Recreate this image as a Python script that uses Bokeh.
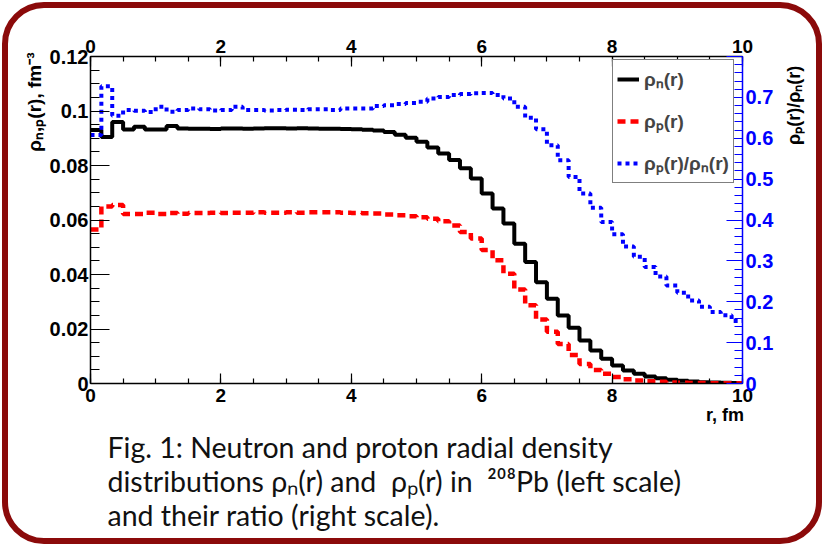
import numpy as np
from math import pi
from bokeh.plotting import figure
from bokeh.models import (Range1d, LinearAxis, FixedTicker, Legend, LegendItem, Title)
from bokeh.embed import file_html
from bokeh.resources import INLINE

# ---------------- data ----------------
r_edges = np.linspace(0, 10, 61)          # 60 bins of 1/6 fm

rho_n = [0.0930, 0.0905, 0.0960, 0.0932, 0.0942, 0.0932, 0.0932, 0.0945, 0.0936, 0.0935,
         0.0935, 0.0934, 0.0936, 0.0936, 0.0935, 0.0936, 0.0937, 0.0937, 0.0936, 0.0937,
         0.0936, 0.0935, 0.0935, 0.0934, 0.0933, 0.0931, 0.0928, 0.0923, 0.0913, 0.0902,
         0.0887, 0.0866, 0.0844, 0.0820, 0.0790, 0.0752, 0.0697, 0.0642, 0.0587, 0.0513,
         0.0446, 0.0372, 0.0311, 0.0250, 0.0205, 0.0158, 0.0121, 0.0091, 0.0066, 0.0048,
         0.0036, 0.0026, 0.0019, 0.0014, 0.0010, 0.0007, 0.0005, 0.0004, 0.0003, 0.0002]

rho_p = [0.0565, 0.0650, 0.0655, 0.0622, 0.0622, 0.0627, 0.0622, 0.0626, 0.0623, 0.0626,
         0.0626, 0.0627, 0.0626, 0.0627, 0.0627, 0.0628, 0.0627, 0.0627, 0.0628, 0.0627,
         0.0628, 0.0628, 0.0628, 0.0627, 0.0626, 0.0625, 0.0624, 0.0620, 0.0617, 0.0614,
         0.0610, 0.0605, 0.0595, 0.0580, 0.0556, 0.0532, 0.0490, 0.0452, 0.0403, 0.0345,
         0.0287, 0.0235, 0.0190, 0.0145, 0.0105, 0.0072, 0.0050, 0.0036, 0.0024, 0.0016,
         0.0011, 0.0008, 0.0006, 0.0004, 0.0003, 0.0002, 0.00015, 0.0001, 0.0001, 0.00007]

ratio = [0.608, 0.727, 0.655, 0.669, 0.667, 0.664, 0.677, 0.665, 0.669, 0.673,
         0.671, 0.668, 0.669, 0.677, 0.669, 0.669, 0.668, 0.669, 0.670, 0.669,
         0.671, 0.671, 0.669, 0.673, 0.673, 0.673, 0.679, 0.681, 0.684, 0.686,
         0.689, 0.697, 0.701, 0.706, 0.708, 0.710, 0.711, 0.706, 0.697, 0.677,
         0.650, 0.622, 0.583, 0.546, 0.505, 0.465, 0.430, 0.395, 0.365, 0.335,
         0.310, 0.285, 0.262, 0.240, 0.222, 0.203, 0.188, 0.175, 0.167, 0.153]

x_ticks = [0, 2, 4, 6, 8, 10]
x_minor = [i * 0.5 for i in range(21)]
y_ticks = [0, 0.02, 0.04, 0.06, 0.08, 0.1, 0.12]
y_labels = ["0", "0.02", "0.04", "0.06", "0.08", "0.1", "0.12"]
y_minor = [i * 0.005 for i in range(25)]
r_ticks = [0, 0.1, 0.2, 0.3, 0.4, 0.5, 0.6, 0.7, 0.8]
r_labels = ["0", "0.1", "0.2", "0.3", "0.4", "0.5", "0.6", "0.7", ""]
r_minor = [i * 0.02 for i in range(41)]

legend_labels = ["ρₙ(r)", "ρₚ(r)", "ρₚ(r)/ρₙ(r)"]
x_title = "r, fm"
y_title = "ρₙ,ₚ(r), fm⁻³"
y2_title = "ρₚ(r)/ρₙ(r)"
caption = ["Fig. 1: Neutron and proton radial density",
           "distributions ρₙ(r) and\u00a0 ρₚ(r) in\u00a0 ²⁰⁸Pb (left scale)",
           "and their ratio (right scale)."]

# ---------------- layout ----------------
W, H = 823, 546
FL, FR, FT, FB = 90, 742, 56, 383
NB = "\u00a0"   # non-breaking space used to shift axis titles along their axis

frame_css = """
:host { position: relative; }
:host::after {
  content: ""; position: absolute; left: 2px; top: 2px;
  width: 808px; height: 530px;
  border: 6px solid #8B0A0A; border-radius: 42px;
  pointer-events: none; z-index: 100;
}
"""

p = figure(width=W, height=H, x_range=Range1d(0, 10), y_range=Range1d(0, 0.12),
           output_backend="svg", toolbar_location=None,
           x_axis_location=None, y_axis_location=None,
           min_border_left=FL, min_border_right=W - FR,
           min_border_top=FT, min_border_bottom=H - FB,
           stylesheets=[frame_css])
p.extra_y_ranges = {"ratio": Range1d(0, 0.8)}
p.grid.visible = False
p.outline_line_color = None
p.background_fill_color = "white"
p.border_fill_color = "white"

FONT = "Liberation Sans"
AXIS_PROPS = LinearAxis.properties()
TITLE_PROPS = Title.properties()


def style_axis(ax, color, tin, tmin, size, standoff):
    ax.axis_line_color = color
    ax.axis_line_width = 1.5
    ax.major_tick_line_color = color
    ax.minor_tick_line_color = color
    ax.major_tick_line_width = 1.2
    ax.minor_tick_line_width = 1.2
    ax.major_tick_in = tin
    ax.major_tick_out = 0
    ax.minor_tick_in = tmin
    ax.minor_tick_out = 0
    ax.major_label_text_font = FONT
    ax.major_label_text_font_style = "bold"
    ax.major_label_text_font_size = size
    ax.major_label_text_color = color
    ax.major_label_standoff = standoff
    ax.axis_label_text_font = FONT
    ax.axis_label_text_font_style = "bold"
    ax.axis_label_text_font_size = "18px"
    ax.axis_label_text_color = "black"


def title_axis(ax, text, standoff, align, orient=None):
    ax.axis_label = text
    ax.axis_label_standoff = standoff
    if "axis_label_align" in AXIS_PROPS:
        ax.axis_label_align = align
    if orient is not None and "axis_label_orientation" in AXIS_PROPS:
        ax.axis_label_orientation = orient


bottom = LinearAxis(ticker=FixedTicker(ticks=x_ticks, minor_ticks=x_minor))
style_axis(bottom, "black", 10, 5, "19px", 5)
title_axis(bottom, x_title + NB * 7, 0, "end")
p.add_layout(bottom, "below")

top = LinearAxis(ticker=FixedTicker(ticks=x_ticks, minor_ticks=x_minor))
style_axis(top, "black", 10, 5, "19px", 4)
p.add_layout(top, "above")

left = LinearAxis(ticker=FixedTicker(ticks=y_ticks, minor_ticks=y_minor),
                  major_label_overrides=dict(zip(y_ticks, y_labels)))
style_axis(left, "black", 19, 9, "20px", 2)
p.add_layout(left, "left")

right = LinearAxis(y_range_name="ratio",
                   ticker=FixedTicker(ticks=r_ticks, minor_ticks=r_minor),
                   major_label_overrides=dict(zip(r_ticks, r_labels)))
style_axis(right, "#0000ff", 16, 8, "20px", 3)
title_axis(right, NB * 15 + y2_title, 18, "center", pi / 2)
p.add_layout(right, "right")

# left-axis title as a side title, right-aligned to the top of the frame
lt = Title(text=y_title, align="right", offset=-4, text_font=FONT,
           text_font_style="bold", text_font_size="19px", text_color="black")
if "standoff" in TITLE_PROPS:
    lt.standoff = 4
p.add_layout(lt, "left")

# ---------------- histograms ----------------
r1 = p.step(x=r_edges, y=rho_n + [rho_n[-1]], mode="after",
            line_color="black", line_width=4)
r2 = p.step(x=r_edges, y=rho_p + [rho_p[-1]], mode="after",
            line_color="#ff0000", line_width=4.5, line_dash="8 5")
r3 = p.step(x=r_edges, y=ratio + [ratio[-1]], mode="after", y_range_name="ratio",
            line_color="#0000ff", line_width=4, line_dash="4 4")

legend = Legend(items=[LegendItem(label=legend_labels[0], renderers=[r1]),
                       LegendItem(label=legend_labels[1], renderers=[r2]),
                       LegendItem(label=legend_labels[2], renderers=[r3])],
                location=(522, 200), border_line_color="black", border_line_width=1.5,
                background_fill_color="white", background_fill_alpha=1.0,
                padding=4, spacing=12, margin=0, glyph_width=22, glyph_height=30,
                label_height=30, label_standoff=5, label_text_font=FONT,
                label_text_font_style="bold", label_text_font_size="19px")
p.add_layout(legend)

# ---------------- caption (multi-line title below the plot) ----------------
cap = Title(text="\n".join(caption), align="left", offset=17, text_font="Lato",
            text_font_size="28.5px", text_font_style="normal", text_color="#111111",
            text_line_height=1.0)
if "standoff" in TITLE_PROPS:
    cap.standoff = 0
p.add_layout(cap, "below")

open("out.html", "w").write(file_html(p, INLINE))
